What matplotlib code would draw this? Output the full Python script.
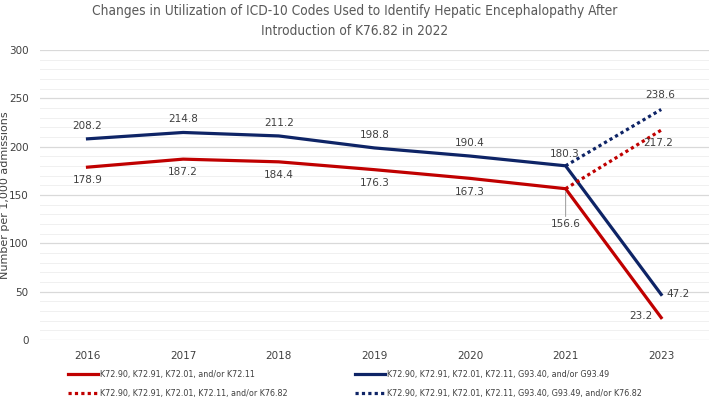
import matplotlib.pyplot as plt
import numpy as np
from matplotlib.ticker import MultipleLocator

# data
years = ['2016', '2017', '2018', '2019', '2020', '2021', '2023']
hep_only = [178.9, 187.2, 184.4, 176.3, 167.3, 156.6, 23.2]
hep_g93 = [208.2, 214.8, 211.2, 198.8, 190.4, 180.3, 47.2]
# dotted series only exist for 2021 -> 2023
hep_k7682 = [156.6, 217.2]
hep_g93_k7682 = [180.3, 238.6]

labels = ['K72.90, K72.91, K72.01, and/or K72.11',
          'K72.90, K72.91, K72.01, K72.11, G93.40, and/or G93.49',
          'K72.90, K72.91, K72.01, K72.11, and/or K76.82',
          'K72.90, K72.91, K72.01, K72.11, G93.40, G93.49, and/or K76.82']

red = '#C00000'
navy = '#0E2466'
txt = '#404040'
narrow = ['Liberation Sans Narrow', 'DejaVu Sans']

fig = plt.figure(figsize=(7.09, 4.01), dpi=100)
ax = fig.add_axes([0.056, 0.152, 0.944, 0.723])

x = np.arange(len(years))
l1, = ax.plot(x, hep_only, color=red, lw=2.3, label=labels[0])
l2, = ax.plot(x, hep_g93, color=navy, lw=2.3, label=labels[1])
l3, = ax.plot(x[-2:], hep_k7682, color=red, lw=2.3, ls=(0, (1, 1)), label=labels[2])
l4, = ax.plot(x[-2:], hep_g93_k7682, color=navy, lw=2.3, ls=(0, (1, 1)), label=labels[3])

# data labels
kw = dict(fontsize=7.5, color=txt, ha='center')
for i in range(5):
    ax.annotate(f'{hep_g93[i]:.1f}', (x[i], hep_g93[i]), xytext=(0, 6), textcoords='offset points', va='bottom', **kw)
    ax.annotate(f'{hep_only[i]:.1f}', (x[i], hep_only[i]), xytext=(0, -6), textcoords='offset points', va='top', **kw)
ax.annotate('180.3', (x[5], hep_g93[5]), xytext=(-1, 5), textcoords='offset points', va='bottom', **kw)
ax.annotate('156.6', (x[5], hep_only[5]), xytext=(0, -22), textcoords='offset points', va='top',
            arrowprops=dict(arrowstyle='-', color='#A6A6A6', lw=0.8, shrinkA=0, shrinkB=2), **kw)
ax.annotate('238.6', (x[6], hep_g93_k7682[1]), xytext=(-1, 7), textcoords='offset points', va='bottom', **kw)
ax.annotate('217.2', (x[6], hep_k7682[1]), xytext=(-2, -6), textcoords='offset points', va='top', **kw)
ax.annotate('47.2', (x[6], hep_g93[6]), xytext=(4, 0), textcoords='offset points', va='center',
            fontsize=7.5, color=txt, ha='left')
ax.annotate('23.2', (x[6], hep_only[6]), xytext=(-6, 1), textcoords='offset points', va='center',
            fontsize=7.5, color=txt, ha='right')

ax.set_xlim(-0.5, len(years) - 0.5)
ax.set_ylim(0, 300)
ax.set_xticks(x)
ax.set_xticklabels(years)
ax.yaxis.set_major_locator(MultipleLocator(50))
ax.yaxis.set_minor_locator(MultipleLocator(10))
ax.grid(axis='y', which='major', color='#D9D9D9', lw=0.9)
ax.grid(axis='y', which='minor', color='#F0F0F0', lw=0.7)
ax.set_axisbelow(True)
for s in ax.spines.values():
    s.set_visible(False)
ax.tick_params(axis='both', length=0, labelsize=7.5, labelcolor=txt, pad=8)
ax.tick_params(axis='y', which='minor', length=0)
ax.set_ylabel('Number per 1,000 admissions', fontsize=8, color=txt)
ax.yaxis.set_label_coords(-0.044, 0.5)

fig.suptitle('Changes in Utilization of ICD-10 Codes Used to Identify Hepatic Encephalopathy After\nIntroduction of K76.82 in 2022',
             y=0.99, fontsize=9.8, color='#595959', family=narrow, fontstretch='condensed', linespacing=1.55)

leg = fig.legend(handles=[l1, l3, l2, l4], loc='lower left', bbox_to_anchor=(0.085, -0.012), ncol=2,
                 frameon=False, labelcolor=txt, columnspacing=7.6, handlelength=3.4,
                 handletextpad=0.15, labelspacing=1.1,
                 prop={'family': narrow, 'stretch': 'condensed', 'size': 6.4})

plt.savefig('out.png', dpi=100)
